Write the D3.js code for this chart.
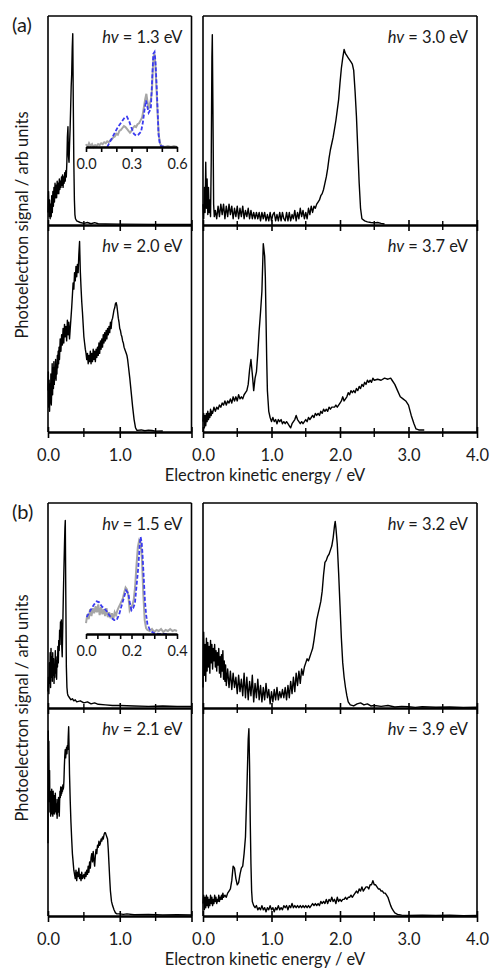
<!DOCTYPE html>
<html>
<head>
<meta charset="utf-8">
<script src="https://cdnjs.cloudflare.com/ajax/libs/d3/7.8.5/d3.min.js"></script>
<style>
body { margin: 0; background: #fff; }
svg { font-family: Lato, "Open Sans", sans-serif; }
</style>
</head>
<body>
<svg id="chart" width="497" height="976"></svg>
<script>
// spectra: [electron kinetic energy (eV), signal (normalised to panel height)]
const a13 = [[0,0.06],[0.008,0.16],[0.015,0.04],[0.022,0.12],[0.03,0.03],[0.037,0.1],[0.045,0.04],[0.052,0.14],[0.06,0.06],[0.068,0.16],[0.075,0.09],[0.083,0.18],[0.09,0.11],[0.098,0.2],[0.105,0.13],[0.113,0.19],[0.12,0.13],[0.128,0.21],[0.135,0.15],[0.143,0.2],[0.15,0.15],[0.158,0.22],[0.165,0.17],[0.173,0.21],[0.18,0.18],[0.188,0.23],[0.195,0.19],[0.203,0.24],[0.21,0.18],[0.218,0.23],[0.225,0.2],[0.233,0.25],[0.24,0.21],[0.248,0.26],[0.255,0.23],[0.263,0.3],[0.27,0.42],[0.278,0.47],[0.285,0.33],[0.293,0.3],[0.3,0.38],[0.308,0.46],[0.315,0.55],[0.323,0.66],[0.33,0.72],[0.338,0.85],[0.345,0.915],[0.352,0.6],[0.36,0.3],[0.368,0.12],[0.375,0.05],[0.383,0.03],[0.4,0.02],[0.45,0.012],[0.5,0.008],[0.55,0.012],[0.6,0.006],[0.65,0.011],[0.7,0.006],[0.8,0.005],[1,0.004],[1.5,0.003],[2,0.003]];

const a20 = [[0,0.2],[0.005,0.29],[0.01,0.12],[0.016,0.25],[0.022,0.1],[0.028,0.23],[0.034,0.14],[0.04,0.28],[0.046,0.13],[0.052,0.2],[0.058,0.33],[0.064,0.18],[0.07,0.31],[0.076,0.21],[0.082,0.34],[0.088,0.23],[0.094,0.31],[0.1,0.26],[0.106,0.35],[0.112,0.25],[0.118,0.32],[0.124,0.28],[0.13,0.37],[0.136,0.31],[0.142,0.39],[0.148,0.33],[0.154,0.41],[0.16,0.35],[0.17,0.45],[0.18,0.39],[0.19,0.47],[0.2,0.42],[0.21,0.5],[0.22,0.43],[0.23,0.52],[0.24,0.46],[0.25,0.51],[0.26,0.44],[0.27,0.54],[0.28,0.47],[0.29,0.53],[0.3,0.45],[0.31,0.5],[0.32,0.55],[0.33,0.6],[0.34,0.66],[0.35,0.72],[0.36,0.69],[0.37,0.77],[0.38,0.73],[0.39,0.8],[0.4,0.75],[0.41,0.81],[0.42,0.77],[0.43,0.86],[0.44,0.92],[0.45,0.78],[0.46,0.7],[0.47,0.63],[0.48,0.58],[0.49,0.52],[0.5,0.46],[0.51,0.43],[0.52,0.4],[0.53,0.38],[0.54,0.35],[0.55,0.38],[0.56,0.33],[0.57,0.37],[0.58,0.34],[0.59,0.39],[0.6,0.33],[0.61,0.38],[0.62,0.34],[0.63,0.4],[0.64,0.35],[0.65,0.39],[0.66,0.34],[0.67,0.4],[0.68,0.36],[0.69,0.41],[0.7,0.37],[0.71,0.43],[0.72,0.38],[0.73,0.44],[0.74,0.4],[0.75,0.45],[0.76,0.41],[0.77,0.47],[0.78,0.43],[0.79,0.48],[0.8,0.44],[0.81,0.49],[0.82,0.45],[0.83,0.5],[0.84,0.47],[0.85,0.51],[0.86,0.48],[0.87,0.53],[0.88,0.5],[0.89,0.54],[0.9,0.55],[0.91,0.57],[0.92,0.59],[0.93,0.6],[0.94,0.62],[0.95,0.625],[0.96,0.61],[0.97,0.58],[0.98,0.55],[0.99,0.53],[1,0.5],[1.01,0.49],[1.02,0.47],[1.03,0.46],[1.04,0.44],[1.05,0.43],[1.06,0.41],[1.07,0.4],[1.08,0.39],[1.09,0.38],[1.1,0.37],[1.11,0.35],[1.12,0.32],[1.14,0.26],[1.16,0.19],[1.18,0.12],[1.2,0.06],[1.22,0.02],[1.24,0.008],[1.3,0.01],[1.35,0.006],[1.4,0.009],[1.45,0.007],[1.5,0.004],[1.6,0.005]];

const a30 = [[0,0.1],[0.01,0.03],[0.02,0.18],[0.03,0.06],[0.04,0.3],[0.05,0.08],[0.06,0.22],[0.07,0.05],[0.08,0.18],[0.09,0.06],[0.1,0.12],[0.11,0.04],[0.12,0.3],[0.13,0.8],[0.136,0.91],[0.145,0.55],[0.155,0.1],[0.165,0.04],[0.18,0.07],[0.2,0.03],[0.22,0.09],[0.24,0.04],[0.26,0.1],[0.28,0.05],[0.3,0.1],[0.32,0.03],[0.34,0.09],[0.36,0.04],[0.38,0.1],[0.4,0.05],[0.42,0.09],[0.44,0.03],[0.46,0.08],[0.48,0.04],[0.5,0.09],[0.52,0.03],[0.54,0.08],[0.56,0.04],[0.58,0.09],[0.6,0.03],[0.62,0.07],[0.64,0.04],[0.66,0.08],[0.68,0.03],[0.7,0.07],[0.72,0.03],[0.74,0.06],[0.76,0.03],[0.78,0.06],[0.8,0.03],[0.82,0.06],[0.84,0.02],[0.86,0.06],[0.88,0.03],[0.9,0.06],[0.92,0.02],[0.94,0.05],[0.96,0.02],[0.98,0.06],[1,0.02],[1.02,0.05],[1.04,0.06],[1.06,0.02],[1.08,0.05],[1.1,0.02],[1.12,0.06],[1.14,0.02],[1.16,0.06],[1.18,0.03],[1.2,0.02],[1.22,0.06],[1.24,0.02],[1.26,0.06],[1.28,0.02],[1.3,0.05],[1.32,0.03],[1.34,0.07],[1.36,0.02],[1.38,0.06],[1.4,0.03],[1.42,0.08],[1.44,0.04],[1.46,0.07],[1.48,0.03],[1.5,0.06],[1.52,0.03],[1.54,0.08],[1.56,0.05],[1.58,0.09],[1.6,0.06],[1.62,0.09],[1.64,0.08],[1.66,0.1],[1.68,0.11],[1.7,0.12],[1.72,0.14],[1.74,0.15],[1.76,0.17],[1.78,0.2],[1.8,0.23],[1.82,0.27],[1.84,0.32],[1.86,0.36],[1.88,0.39],[1.9,0.42],[1.92,0.46],[1.94,0.5],[1.96,0.55],[1.98,0.6],[2,0.68],[2.02,0.75],[2.04,0.8],[2.06,0.84],[2.08,0.82],[2.1,0.81],[2.12,0.8],[2.14,0.79],[2.16,0.78],[2.18,0.77],[2.2,0.74],[2.22,0.64],[2.24,0.52],[2.26,0.36],[2.28,0.2],[2.3,0.08],[2.32,0.03],[2.36,0.02],[2.4,0.015],[2.45,0.012],[2.5,0.01],[2.55,0.012],[2.6,0.008],[2.65,0.005]];

const a37 = [[0,0.05],[0.01,0.09],[0.02,0.02],[0.03,0.08],[0.04,0.03],[0.05,0.09],[0.06,0.05],[0.07,0.1],[0.08,0.06],[0.09,0.09],[0.1,0.07],[0.11,0.11],[0.12,0.08],[0.13,0.1],[0.14,0.09],[0.16,0.12],[0.18,0.1],[0.2,0.12],[0.22,0.11],[0.24,0.13],[0.26,0.12],[0.28,0.14],[0.3,0.13],[0.32,0.15],[0.34,0.13],[0.36,0.15],[0.38,0.14],[0.4,0.16],[0.42,0.14],[0.44,0.17],[0.46,0.15],[0.48,0.17],[0.5,0.15],[0.52,0.18],[0.54,0.16],[0.56,0.17],[0.58,0.16],[0.6,0.18],[0.62,0.19],[0.64,0.2],[0.66,0.23],[0.68,0.3],[0.7,0.35],[0.72,0.28],[0.74,0.2],[0.76,0.26],[0.78,0.29],[0.8,0.38],[0.82,0.49],[0.84,0.58],[0.86,0.68],[0.88,0.91],[0.9,0.85],[0.91,0.75],[0.92,0.55],[0.93,0.35],[0.94,0.2],[0.96,0.1],[0.98,0.07],[1,0.05],[1.02,0.07],[1.04,0.05],[1.06,0.06],[1.08,0.04],[1.1,0.06],[1.12,0.05],[1.14,0.06],[1.16,0.04],[1.18,0.05],[1.2,0.04],[1.22,0.05],[1.24,0.04],[1.26,0.03],[1.28,0.02],[1.3,0.04],[1.32,0.05],[1.34,0.06],[1.36,0.08],[1.38,0.06],[1.4,0.05],[1.42,0.04],[1.44,0.05],[1.46,0.04],[1.48,0.05],[1.5,0.06],[1.52,0.05],[1.54,0.07],[1.56,0.06],[1.58,0.07],[1.6,0.08],[1.62,0.07],[1.64,0.09],[1.66,0.08],[1.68,0.09],[1.7,0.08],[1.72,0.1],[1.74,0.09],[1.76,0.11],[1.78,0.1],[1.8,0.11],[1.82,0.1],[1.84,0.12],[1.86,0.11],[1.88,0.12],[1.9,0.12],[1.92,0.12],[1.94,0.13],[1.96,0.12],[1.98,0.13],[2,0.14],[2.02,0.15],[2.04,0.17],[2.06,0.15],[2.08,0.16],[2.1,0.17],[2.12,0.19],[2.14,0.18],[2.16,0.2],[2.18,0.19],[2.2,0.2],[2.22,0.19],[2.24,0.21],[2.26,0.2],[2.28,0.22],[2.3,0.21],[2.32,0.23],[2.34,0.22],[2.36,0.24],[2.38,0.23],[2.4,0.25],[2.42,0.24],[2.44,0.25],[2.46,0.24],[2.48,0.26],[2.5,0.25],[2.55,0.255],[2.6,0.25],[2.65,0.26],[2.7,0.255],[2.74,0.26],[2.76,0.25],[2.8,0.23],[2.84,0.2],[2.88,0.17],[2.92,0.16],[2.96,0.15],[3,0.13],[3.04,0.08],[3.08,0.04],[3.11,0.015],[3.15,0.01],[3.23,0.01]];

const b15 = [[0,0.08],[0.006,0.15],[0.012,0.07],[0.018,0.22],[0.024,0.12],[0.03,0.27],[0.036,0.1],[0.042,0.29],[0.048,0.15],[0.054,0.25],[0.06,0.13],[0.066,0.27],[0.072,0.16],[0.078,0.24],[0.084,0.12],[0.09,0.21],[0.096,0.15],[0.102,0.28],[0.108,0.17],[0.114,0.23],[0.12,0.14],[0.126,0.25],[0.132,0.2],[0.138,0.3],[0.144,0.22],[0.15,0.33],[0.156,0.28],[0.162,0.38],[0.168,0.31],[0.174,0.42],[0.18,0.36],[0.186,0.43],[0.192,0.3],[0.198,0.25],[0.206,0.4],[0.214,0.55],[0.222,0.68],[0.23,0.8],[0.236,0.88],[0.241,0.915],[0.248,0.55],[0.256,0.2],[0.264,0.1],[0.272,0.07],[0.28,0.06],[0.3,0.05],[0.32,0.04],[0.34,0.045],[0.36,0.035],[0.38,0.04],[0.4,0.03],[0.45,0.035],[0.5,0.025],[0.55,0.03],[0.6,0.02],[0.65,0.025],[0.7,0.018],[0.8,0.015],[0.9,0.012],[1,0.012],[1.2,0.01],[1.4,0.008],[1.6,0.01],[1.8,0.008],[2,0.008]];

const b21 = [[0,0.35],[0.004,0.89],[0.008,0.62],[0.012,0.84],[0.017,0.55],[0.022,0.7],[0.027,0.5],[0.032,0.6],[0.037,0.48],[0.042,0.58],[0.047,0.5],[0.052,0.61],[0.057,0.49],[0.062,0.56],[0.067,0.48],[0.072,0.6],[0.077,0.52],[0.082,0.58],[0.087,0.49],[0.092,0.55],[0.097,0.5],[0.102,0.59],[0.107,0.53],[0.112,0.56],[0.117,0.49],[0.122,0.54],[0.127,0.47],[0.132,0.52],[0.137,0.56],[0.142,0.5],[0.147,0.57],[0.152,0.53],[0.157,0.48],[0.162,0.55],[0.167,0.6],[0.172,0.57],[0.177,0.62],[0.182,0.58],[0.187,0.61],[0.192,0.59],[0.197,0.62],[0.202,0.6],[0.207,0.63],[0.212,0.61],[0.217,0.62],[0.222,0.65],[0.228,0.72],[0.234,0.77],[0.24,0.8],[0.246,0.76],[0.252,0.79],[0.258,0.81],[0.264,0.78],[0.27,0.82],[0.276,0.8],[0.282,0.86],[0.288,0.91],[0.294,0.8],[0.3,0.68],[0.31,0.55],[0.32,0.45],[0.33,0.37],[0.34,0.3],[0.35,0.26],[0.36,0.22],[0.37,0.2],[0.38,0.18],[0.39,0.22],[0.4,0.17],[0.41,0.21],[0.42,0.19],[0.43,0.23],[0.44,0.18],[0.45,0.2],[0.46,0.17],[0.47,0.21],[0.48,0.18],[0.49,0.19],[0.5,0.2],[0.51,0.18],[0.52,0.21],[0.53,0.19],[0.54,0.22],[0.55,0.2],[0.56,0.24],[0.57,0.21],[0.58,0.26],[0.59,0.23],[0.6,0.28],[0.61,0.3],[0.62,0.26],[0.63,0.31],[0.64,0.27],[0.65,0.24],[0.66,0.29],[0.67,0.32],[0.68,0.3],[0.69,0.34],[0.7,0.33],[0.71,0.36],[0.72,0.34],[0.73,0.35],[0.74,0.37],[0.75,0.36],[0.76,0.38],[0.77,0.37],[0.78,0.39],[0.79,0.4],[0.8,0.4],[0.81,0.39],[0.82,0.38],[0.83,0.37],[0.84,0.32],[0.85,0.25],[0.86,0.18],[0.87,0.12],[0.885,0.07],[0.9,0.05],[0.92,0.03],[0.94,0.015],[0.96,0.01],[1,0.01],[1.05,0.008],[1.1,0.01],[1.2,0.006],[1.4,0.007],[1.6,0.005],[1.8,0.006],[2,0.005]];

const b32 = [[0,0.1],[0.01,0.37],[0.02,0.16],[0.03,0.31],[0.04,0.13],[0.05,0.34],[0.06,0.18],[0.07,0.32],[0.08,0.2],[0.09,0.3],[0.1,0.17],[0.11,0.33],[0.12,0.22],[0.13,0.31],[0.14,0.19],[0.15,0.29],[0.16,0.23],[0.17,0.31],[0.18,0.2],[0.19,0.28],[0.2,0.18],[0.21,0.27],[0.22,0.21],[0.23,0.29],[0.24,0.17],[0.25,0.25],[0.26,0.15],[0.27,0.26],[0.28,0.18],[0.29,0.28],[0.3,0.14],[0.31,0.23],[0.32,0.13],[0.33,0.21],[0.34,0.11],[0.36,0.19],[0.38,0.1],[0.4,0.18],[0.42,0.09],[0.44,0.17],[0.46,0.1],[0.48,0.15],[0.5,0.07],[0.52,0.16],[0.54,0.08],[0.56,0.14],[0.58,0.06],[0.6,0.17],[0.62,0.05],[0.64,0.15],[0.66,0.04],[0.68,0.13],[0.7,0.06],[0.72,0.16],[0.74,0.03],[0.76,0.12],[0.78,0.05],[0.8,0.14],[0.82,0.04],[0.84,0.11],[0.86,0.03],[0.88,0.1],[0.9,0.04],[0.92,0.12],[0.94,0.05],[0.96,0.09],[0.98,0.02],[1,0.08],[1.02,0.03],[1.04,0.09],[1.06,0.04],[1.08,0.1],[1.1,0.04],[1.12,0.08],[1.14,0.05],[1.16,0.09],[1.18,0.05],[1.2,0.1],[1.22,0.04],[1.24,0.11],[1.26,0.05],[1.28,0.13],[1.3,0.07],[1.32,0.15],[1.34,0.08],[1.36,0.17],[1.38,0.11],[1.4,0.18],[1.42,0.12],[1.44,0.19],[1.46,0.16],[1.48,0.2],[1.5,0.22],[1.52,0.24],[1.54,0.23],[1.56,0.25],[1.58,0.27],[1.6,0.29],[1.62,0.33],[1.64,0.38],[1.66,0.43],[1.68,0.46],[1.7,0.49],[1.72,0.52],[1.74,0.57],[1.76,0.65],[1.78,0.71],[1.8,0.72],[1.82,0.74],[1.84,0.75],[1.86,0.77],[1.88,0.79],[1.9,0.83],[1.92,0.89],[1.93,0.91],[1.94,0.88],[1.96,0.8],[1.98,0.66],[2,0.5],[2.02,0.34],[2.04,0.22],[2.06,0.15],[2.08,0.1],[2.1,0.06],[2.12,0.03],[2.15,0.015],[2.2,0.01],[2.25,0.02],[2.3,0.025],[2.35,0.015],[2.4,0.02],[2.45,0.01],[2.5,0.012],[2.6,0.008],[2.7,0.012],[2.8,0.005],[2.9,0.008],[3,0.006],[3.1,0.003],[3.2,0.006],[3.4,0.004],[3.6,0.005],[3.8,0.003],[4,0.004]];

const b39 = [[0,0.06],[0.01,0.1],[0.02,0.03],[0.03,0.09],[0.04,0.04],[0.05,0.1],[0.06,0.05],[0.07,0.09],[0.08,0.04],[0.09,0.08],[0.1,0.05],[0.11,0.1],[0.12,0.06],[0.13,0.09],[0.14,0.05],[0.15,0.08],[0.16,0.06],[0.17,0.1],[0.18,0.07],[0.19,0.09],[0.2,0.06],[0.21,0.08],[0.22,0.07],[0.23,0.1],[0.24,0.07],[0.25,0.09],[0.26,0.08],[0.27,0.1],[0.28,0.08],[0.29,0.11],[0.3,0.09],[0.32,0.1],[0.34,0.09],[0.36,0.11],[0.38,0.12],[0.4,0.13],[0.42,0.17],[0.44,0.24],[0.46,0.23],[0.48,0.18],[0.5,0.15],[0.52,0.16],[0.54,0.2],[0.56,0.23],[0.58,0.24],[0.6,0.3],[0.62,0.38],[0.64,0.6],[0.66,0.85],[0.67,0.9],[0.68,0.72],[0.69,0.45],[0.7,0.25],[0.71,0.12],[0.72,0.07],[0.74,0.05],[0.76,0.04],[0.78,0.05],[0.8,0.03],[0.82,0.04],[0.84,0.03],[0.86,0.05],[0.88,0.03],[0.9,0.04],[0.92,0.02],[0.94,0.04],[0.96,0.03],[0.98,0.05],[1,0.03],[1.02,0.04],[1.04,0.02],[1.06,0.04],[1.08,0.03],[1.1,0.05],[1.12,0.03],[1.14,0.04],[1.16,0.03],[1.18,0.05],[1.2,0.04],[1.22,0.05],[1.24,0.03],[1.26,0.05],[1.28,0.04],[1.3,0.06],[1.32,0.04],[1.34,0.05],[1.36,0.04],[1.38,0.05],[1.4,0.04],[1.42,0.05],[1.44,0.04],[1.46,0.05],[1.48,0.04],[1.5,0.05],[1.52,0.04],[1.54,0.05],[1.56,0.04],[1.58,0.05],[1.6,0.06],[1.62,0.05],[1.64,0.06],[1.66,0.05],[1.68,0.06],[1.7,0.05],[1.72,0.07],[1.74,0.06],[1.76,0.07],[1.78,0.06],[1.8,0.08],[1.82,0.06],[1.84,0.08],[1.86,0.07],[1.88,0.09],[1.9,0.07],[1.92,0.08],[1.94,0.06],[1.96,0.09],[1.98,0.07],[2,0.08],[2.02,0.07],[2.04,0.08],[2.06,0.08],[2.08,0.09],[2.1,0.08],[2.12,0.09],[2.14,0.09],[2.16,0.1],[2.18,0.09],[2.2,0.1],[2.22,0.11],[2.24,0.12],[2.26,0.11],[2.28,0.13],[2.3,0.12],[2.32,0.14],[2.34,0.12],[2.36,0.13],[2.38,0.14],[2.4,0.14],[2.42,0.13],[2.44,0.15],[2.46,0.15],[2.48,0.17],[2.5,0.15],[2.52,0.15],[2.54,0.14],[2.56,0.13],[2.58,0.13],[2.6,0.12],[2.62,0.12],[2.64,0.11],[2.66,0.11],[2.68,0.1],[2.7,0.09],[2.72,0.07],[2.74,0.05],[2.76,0.035],[2.78,0.025],[2.8,0.015],[2.84,0.008],[2.9,0.004],[3,0.003],[3.2,0.004],[3.4,0.003],[3.6,0.004],[3.8,0.002],[4,0.003]];

// insets: experiment (grey) and calculation (blue dashed)
const insetAExpt = [[0,0.03],[0.01,0],[0.02,0.04],[0.03,0.01],[0.04,0.03],[0.05,0],[0.06,0.02],[0.07,0.01],[0.08,0.03],[0.09,0.02],[0.1,0.04],[0.11,0.03],[0.12,0.05],[0.13,0.04],[0.14,0.06],[0.15,0.05],[0.16,0.07],[0.17,0.08],[0.18,0.1],[0.19,0.11],[0.2,0.14],[0.21,0.13],[0.22,0.17],[0.23,0.18],[0.24,0.2],[0.25,0.22],[0.26,0.21],[0.27,0.19],[0.28,0.17],[0.29,0.15],[0.3,0.17],[0.31,0.2],[0.32,0.22],[0.33,0.21],[0.34,0.24],[0.35,0.25],[0.36,0.28],[0.37,0.31],[0.38,0.4],[0.39,0.5],[0.398,0.56],[0.405,0.48],[0.412,0.4],[0.42,0.45],[0.428,0.5],[0.435,0.6],[0.44,0.8],[0.445,0.95],[0.452,0.98],[0.458,0.85],[0.465,0.6],[0.472,0.35],[0.48,0.12],[0.49,0.03],[0.5,0.01],[0.52,0],[0.54,0.01],[0.56,0],[0.58,0.01],[0.6,0]];
const insetACalc = [[0.14,0],[0.15,0.03],[0.17,0.09],[0.19,0.15],[0.21,0.21],[0.233,0.26],[0.255,0.31],[0.27,0.32],[0.285,0.27],[0.298,0.21],[0.315,0.14],[0.33,0.12],[0.345,0.13],[0.363,0.16],[0.375,0.26],[0.385,0.38],[0.396,0.49],[0.405,0.42],[0.413,0.36],[0.42,0.38],[0.428,0.42],[0.436,0.7],[0.444,0.98],[0.452,1],[0.458,0.9],[0.465,0.67],[0.472,0.4],[0.478,0.14],[0.485,0.05],[0.494,0.01],[0.526,0]];
const insetBExpt = [[0,0.11],[0.006,0.2],[0.012,0.15],[0.018,0.25],[0.024,0.18],[0.03,0.26],[0.036,0.21],[0.042,0.28],[0.048,0.22],[0.054,0.3],[0.06,0.19],[0.066,0.27],[0.072,0.2],[0.078,0.25],[0.084,0.18],[0.09,0.26],[0.096,0.17],[0.102,0.22],[0.108,0.16],[0.114,0.21],[0.12,0.15],[0.126,0.22],[0.132,0.19],[0.138,0.24],[0.144,0.27],[0.15,0.3],[0.156,0.33],[0.162,0.36],[0.168,0.42],[0.174,0.47],[0.18,0.45],[0.186,0.39],[0.192,0.24],[0.198,0.27],[0.204,0.29],[0.21,0.35],[0.216,0.48],[0.222,0.7],[0.228,0.88],[0.234,0.95],[0.24,0.93],[0.246,0.75],[0.252,0.4],[0.258,0.14],[0.264,0.06],[0.27,0.04],[0.28,0.03],[0.29,0.05],[0.3,0.02],[0.31,0.04],[0.32,0.03],[0.33,0.05],[0.34,0.02],[0.35,0.04],[0.36,0.03],[0.37,0.05],[0.38,0.03],[0.39,0.04],[0.4,0.03]];
const insetBCalc = [[0.003,0.17],[0.015,0.22],[0.025,0.26],[0.036,0.3],[0.047,0.33],[0.058,0.32],[0.069,0.28],[0.08,0.26],[0.091,0.23],[0.102,0.19],[0.113,0.16],[0.124,0.14],[0.135,0.14],[0.146,0.2],[0.157,0.29],[0.167,0.37],[0.176,0.44],[0.186,0.41],[0.193,0.31],[0.2,0.24],[0.207,0.26],[0.215,0.31],[0.222,0.48],[0.23,0.68],[0.236,0.9],[0.24,0.98],[0.245,0.92],[0.249,0.78],[0.254,0.56],[0.259,0.34],[0.264,0.2],[0.27,0.1],[0.281,0.04],[0.296,0.01],[0.32,0],[0.355,0]];

const figLabels = ['(a)', '(b)'];
const photonEnergies = [['1.3', '3.0', '2.0', '3.7'], ['1.5', '3.2', '2.1', '3.9']];
const insetMax = [0.6, 0.4];
const insetTickStep = [0.1, 0.05];
const insetTickLabels = [[0, 0.3, 0.6], [0, 0.2, 0.4]];
const majorTicksLeft = [0, 1, 2];
const majorTicksRight = [0, 1, 2, 3, 4];
const xTitle = 'Electron kinetic energy / eV';
const yTitle = 'Photoelectron signal / arb units';

const svg = d3.select('#chart');
const fontStack = 'Lato, "Open Sans", sans-serif';

const xL = d3.scaleLinear().domain([0, 2]).range([48, 191.5]);
const xR = d3.scaleLinear().domain([0, 4]).range([203, 477]);

const groups = [
  { top: 16, mid: 225, bottom: 432, spectra: [a13, a30, a20, a37],
    insetExpt: insetAExpt, insetCalc: insetACalc, insetAxis: 147, insetH: 95 },
  { top: 503, mid: 708, bottom: 916, spectra: [b15, b32, b21, b39],
    insetExpt: insetBExpt, insetCalc: insetBCalc, insetAxis: 634, insetH: 99 }
];

const lineGen = (x, y) => d3.line().x(d => x(d[0])).y(d => y(d[1]));

groups.forEach((g, gi) => {
  const cols = [xL, xR];
  const rows = [[g.top, g.mid], [g.mid, g.bottom]];

  // spectra
  g.spectra.forEach((spec, i) => {
    const x = cols[i % 2];
    const [t, b] = rows[Math.floor(i / 2)];
    const y = d3.scaleLinear().domain([0, 1]).range([b, t]);

    svg.append('path')
      .datum(spec)
      .attr('d', lineGen(x, y))
      .attr('fill', 'none')
      .attr('stroke', '#000')
      .attr('stroke-width', 1.4)
      .attr('stroke-linejoin', 'round');

    const lab = svg.append('text')
      .attr('x', x.range()[1] - 9)
      .attr('y', t + 27)
      .attr('text-anchor', 'end')
      .attr('font-size', 16.5)
      .attr('fill', '#1a1a1a');
    lab.append('tspan').attr('font-style', 'italic').text('hv');
    lab.append('tspan').text(` = ${photonEnergies[gi][i]} eV`);
  });

  // frames and axes
  cols.forEach((x, ci) => {
    const [x0, x1] = x.range();
    [x0, x1].forEach(xx => {
      svg.append('line')
        .attr('x1', xx).attr('x2', xx)
        .attr('y1', g.top).attr('y2', g.bottom)
        .attr('stroke', '#000').attr('stroke-width', 1.6);
    });
    svg.append('line')
      .attr('x1', x0).attr('x2', x1)
      .attr('y1', g.top).attr('y2', g.top)
      .attr('stroke', '#000').attr('stroke-width', 1.6);

    const majors = ci === 0 ? majorTicksLeft : majorTicksRight;
    const minors = d3.range(0.5, x.domain()[1], 1);

    [g.mid, g.bottom].forEach((yy, ri) => {
      const ax = svg.append('g')
        .attr('transform', `translate(0,${yy})`)
        .call(d3.axisBottom(x)
          .tickValues(majors)
          .tickSizeOuter(0)
          .tickFormat(d => (ci === 0 && d === 2) ? '' : d3.format('.1f')(d)));
      ax.select('.domain').attr('stroke-width', 2.6);
      ax.selectAll('.tick line').attr('y1', -5).attr('y2', 6).attr('stroke-width', 1.6);
      ax.selectAll('.tick text')
        .attr('y', 28.5).attr('dy', null)
        .attr('font-size', 16.5).attr('font-family', fontStack)
        .attr('fill', '#1a1a1a')
        .style('display', ri === 0 ? 'none' : null);

      ax.selectAll('line.minor')
        .data(minors)
        .enter().append('line')
        .classed('minor', true)
        .attr('x1', d => x(d)).attr('x2', d => x(d))
        .attr('y1', -4).attr('y2', 5)
        .attr('stroke', '#000').attr('stroke-width', 1.4);
    });
  });

  // inset
  const ix = d3.scaleLinear().domain([0, insetMax[gi]]).range([86, 177]);
  const iy = d3.scaleLinear().domain([0, 1]).range([g.insetAxis, g.insetAxis - g.insetH]);

  svg.append('path')
    .datum(g.insetExpt)
    .attr('d', lineGen(ix, iy))
    .attr('fill', 'none')
    .attr('stroke', '#a6a6a6')
    .attr('stroke-width', 2);

  svg.append('path')
    .datum(g.insetCalc)
    .attr('d', lineGen(ix, iy))
    .attr('fill', 'none')
    .attr('stroke', '#3a3af0')
    .attr('stroke-width', 1.8)
    .attr('stroke-dasharray', '4,2');

  const ia = svg.append('g')
    .attr('transform', `translate(0,${g.insetAxis})`)
    .call(d3.axisBottom(ix)
      .tickValues(d3.range(0, insetMax[gi] + 1e-9, insetTickStep[gi]))
      .tickSize(5)
      .tickSizeOuter(0)
      .tickFormat(d => insetTickLabels[gi].some(v => Math.abs(v - d) < 1e-6) ? d3.format('.1f')(d) : ''));
  ia.select('.domain').attr('stroke-width', 2.6);
  ia.selectAll('.tick line').attr('stroke-width', 1.6);
  ia.selectAll('.tick text')
    .attr('y', 22).attr('dy', null)
    .attr('font-size', 14.5).attr('font-family', fontStack)
    .attr('fill', '#1a1a1a');

  // titles
  svg.append('text')
    .attr('x', 12).attr('y', g.top + 16)
    .attr('font-size', 20)
    .attr('fill', '#1a1a1a')
    .text(figLabels[gi]);

  svg.append('text')
    .attr('transform', `translate(28,${g.mid}) rotate(-90)`)
    .attr('text-anchor', 'middle')
    .attr('font-size', 16.5)
    .attr('fill', '#1a1a1a')
    .text(yTitle);

  svg.append('text')
    .attr('x', 265).attr('y', g.bottom + 49)
    .attr('text-anchor', 'middle')
    .attr('font-size', 16.5)
    .attr('fill', '#1a1a1a')
    .text(xTitle);
});
</script>
</body>
</html>
